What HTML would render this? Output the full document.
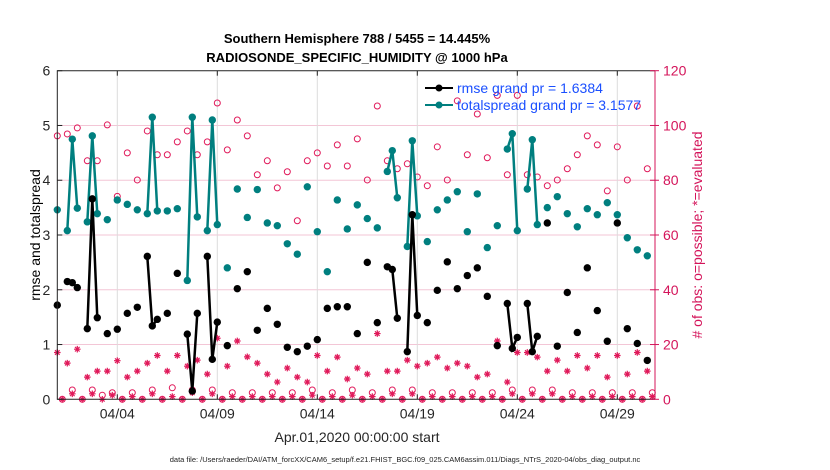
<!DOCTYPE html>
<html><head><meta charset="utf-8"><style>
body{margin:0;background:#fff;}
svg{display:block;font-family:"Liberation Sans",Arial,sans-serif;}
</style></head><body>
<svg id="chart" width="830" height="470">
<text x="357" y="43" text-anchor="middle" font-size="13" font-weight="bold">Southern Hemisphere 788 / 5455 = 14.445%</text>
<text x="357" y="62" text-anchor="middle" font-size="13" font-weight="bold">RADIOSONDE_SPECIFIC_HUMIDITY @ 1000 hPa</text>
<text transform="translate(40,235) rotate(-90)" text-anchor="middle" font-size="14">rmse and totalspread</text>
<text transform="translate(702,235) rotate(-90)" text-anchor="middle" font-size="14" fill="#d4145a"># of obs: o=possible; *=evaluated</text>
<text x="357" y="442" text-anchor="middle" font-size="14" fill="#262626">Apr.01,2020 00:00:00 start</text>
<text x="405" y="462" text-anchor="middle" font-size="7.5" fill="#222">data file: /Users/raeder/DAI/ATM_forcXX/CAM6_setup/f.e21.FHIST_BGC.f09_025.CAM6assim.011/Diags_NTrS_2020-04/obs_diag_output.nc</text>
<g id="grid"></g><g id="marks"></g><g id="axes"></g>
<g>
<line x1="425" y1="88" x2="453" y2="88" stroke="#000" stroke-width="2"/>
<circle cx="439" cy="88" r="3.5" fill="#000"/>
<text x="457" y="93" font-size="14" fill="#1a4fff">rmse grand pr = 1.6384</text>
<line x1="425" y1="105" x2="453" y2="105" stroke="#007f7f" stroke-width="2"/>
<circle cx="439" cy="105" r="3.5" fill="#007f7f"/>
<text x="457" y="110" font-size="14" fill="#1a4fff">totalspread grand pr = 3.1577</text>
</g>
</svg>
<script>
const tickDays=[3,8,13,18,23,28];
const tickLabels=["04/04","04/09","04/14","04/19","04/24","04/29"];
const leftTicks=[0,1,2,3,4,5,6];
const rightTicks=[0,20,40,60,80,100,120];
const rmse=[1.72,null,2.15,2.13,2.04,null,1.29,3.66,1.49,null,
1.20,null,1.28,null,1.57,null,1.68,null,2.61,1.34,
1.46,null,1.57,null,2.30,null,1.19,0.15,1.57,null,
2.61,0.73,1.41,null,0.98,null,2.02,null,2.33,null,
1.26,null,1.66,null,1.37,null,0.95,null,0.87,null,
0.97,null,1.09,null,1.66,null,1.69,null,1.69,null,
1.20,null,2.50,null,1.40,null,2.42,2.37,1.48,null,
0.87,3.37,1.53,null,1.40,null,1.99,null,2.51,null,
2.02,null,2.26,null,2.40,null,1.88,null,0.98,null,
1.75,0.93,1.13,null,1.75,0.87,1.15,null,3.22,null,
0.97,null,1.95,null,1.22,null,2.40,null,1.62,null,
1.06,null,3.22,null,1.29,null,1.02,null,0.71,null];
const spread=[3.46,null,3.08,4.75,3.49,null,3.24,4.81,3.39,null,
3.28,null,3.64,null,3.56,null,3.46,null,3.39,5.15,
3.44,null,3.44,null,3.48,null,2.17,5.15,3.33,null,
3.08,5.10,3.19,null,2.40,null,3.84,null,3.32,null,
3.83,null,3.22,null,3.17,null,2.84,null,2.65,null,
3.88,null,3.06,null,2.33,null,3.64,null,3.11,null,
3.55,null,3.30,null,3.13,null,4.16,4.54,3.68,null,
2.79,4.72,3.35,null,2.88,null,3.46,null,3.64,null,
3.79,null,3.06,null,3.75,null,2.77,null,3.17,null,
4.57,4.85,3.08,null,3.84,4.74,3.19,null,3.50,null,
3.70,null,3.39,null,3.15,null,3.48,null,3.37,null,
3.59,null,3.37,null,2.95,null,2.73,null,2.62,null];
const possible=[96.2,0,96.9,3.4,99.1,0,87.1,3.4,87.1,1.5,
100.2,2.4,74.1,0,90,2.4,80.1,0,98,3.4,
89.3,0,89.3,4.2,94,0,98,3.4,89.3,0,
94,3.4,108.2,0,91.1,2.4,102,0,96.2,2.4,
82,0,87.1,2.4,77.2,0,83.1,2.4,65.2,0,
87.1,3.4,90,0,85.2,2.4,92.9,0,85.2,3.4,
95.1,0,80.1,2.4,107.1,0,87.1,3.4,84.2,0,
86,3.4,81.2,0,78,2.4,92.2,0,80.1,2.4,
109,0,89.3,2.4,104.2,0,88.2,2.4,111,0,
82,3.4,111,0,82,3.4,81.2,0,78,3.4,
80.1,0,84.2,2.4,89.3,0,96.2,2.4,92.9,0,
76.1,2.4,92.2,0,80.1,2.4,107.1,0,84.2,2.4];
const evaluated=[17.1,0,13.2,2,18.3,0,8.1,2,10.3,0,
10.3,1.5,14.1,0,8.1,1,10.3,0,13.2,2,
16,0,10.3,1,16,0,12.1,2.4,14.3,0,
9.2,2,22.3,0,12.1,1,21.3,0,15.5,1,
13.2,0,9.2,1,6.3,0,11.4,1,8.1,0,
6.3,1.5,16,0,10.3,1,15.4,0,7.4,1.5,
11.4,0,9.2,1,24,0,10.3,2,10.3,0,
14.3,2,12.1,0,13.2,1,15.4,0,11.4,1,
13.2,0,12.1,1,8.1,0,9.2,1,21.3,0,
6.3,2,17.1,0,17.1,2,15.4,0,10.3,2,
14.3,0,10.3,1,16,0,11.4,1,16,0,
8.1,1,16,0,9.2,1,17.1,0,10.3,1];

const NS="http://www.w3.org/2000/svg";
const X0=57.3,X1=655,Y0=399.3,Y1=70.7;
function xDay(d){return X0+20*d;}
function xIdx(i){return xDay(i*0.25);}
function yL(v){return Y0-(Y0-Y1)*v/6;}
function yR(v){return Y0-(Y0-Y1)*v/120;}
function mk(tag,attrs,parent){const e=document.createElementNS(NS,tag);for(const k in attrs)e.setAttribute(k,attrs[k]);parent.appendChild(e);return e;}
const grid=document.getElementById('grid'),marks=document.getElementById('marks'),axes=document.getElementById('axes');

rightTicks.forEach(t=>{if(t>0&&t<120){const g=mk('line',{x1:X0,x2:X1,y1:yR(t),y2:yR(t),stroke:'#f3c6d6','stroke-width':1},grid);

}});
tickDays.forEach((d,k)=>{const g=mk('line',{x1:xDay(d),x2:xDay(d),y1:Y1,y2:Y0,stroke:'#dcdcdc','stroke-width':1},grid);


const tk=mk('line',{x1:xDay(d),x2:xDay(d),y1:Y0,y2:Y0-5,stroke:'#222'},axes);


const tt=mk('line',{x1:xDay(d),x2:xDay(d),y1:Y1,y2:Y1+5,stroke:'#222'},axes);


const tl=mk('text',{x:xDay(d),y:Y0+19,'text-anchor':'middle','font-size':14,fill:'#262626'},axes);
tl.textContent=tickLabels[k];

});

function drawLine(arr,color,name){
  let seg=[];
  const flush=()=>{if(seg.length>1){const p=mk('polyline',{points:seg.join(' '),fill:'none',stroke:color,'stroke-width':2.5},marks);
  
  }seg=[];};
  arr.forEach((v,i)=>{if(v===null)flush();else seg.push(xIdx(i)+','+yL(v));});flush();
  arr.forEach((v,i)=>{if(v!==null){const c=mk('circle',{cx:xIdx(i),cy:yL(v),r:3.7,fill:color},marks);
  
  }});
}
possible.forEach((v,i)=>{const c=mk('circle',{cx:xIdx(i),cy:yR(v),r:3,fill:'none',stroke:'#e0195a','stroke-width':1},marks);

});
evaluated.forEach((v,i)=>{const x=xIdx(i),y=yR(v),s=3.3;
const g=mk('path',{d:`M${x-s},${y}H${x+s}M${x},${y-s}V${y+s}M${x-s*0.7},${y-s*0.7}L${x+s*0.7},${y+s*0.7}M${x-s*0.7},${y+s*0.7}L${x+s*0.7},${y-s*0.7}`,stroke:'#e0195a','stroke-width':1.2,fill:'none'},marks);

});
drawLine(spread,'#007f7f','totalspread');
drawLine(rmse,'#000','rmse');

const box=mk('path',{d:`M${X1},${Y1}H${X0}V${Y0}H${X1}`,fill:'none',stroke:'#222','stroke-width':1},axes);


const rax=mk('line',{x1:X1,x2:X1,y1:Y1,y2:Y0,stroke:'#d4145a','stroke-width':1},axes);


leftTicks.forEach(t=>{const l=mk('text',{x:X0-7,y:yL(t)+5,'text-anchor':'end','font-size':14,fill:'#262626'},axes);l.textContent=t;


const tk=mk('line',{x1:X0,x2:X0+5,y1:yL(t),y2:yL(t),stroke:'#222'},axes);

});
rightTicks.forEach(t=>{const l=mk('text',{x:X1+8,y:yR(t)+5,'font-size':14,fill:'#d4145a'},axes);l.textContent=t;


const tk=mk('line',{x1:X1-5,x2:X1+4,y1:yR(t),y2:yR(t),stroke:'#d4145a'},axes);

});
</script>
</body></html>
